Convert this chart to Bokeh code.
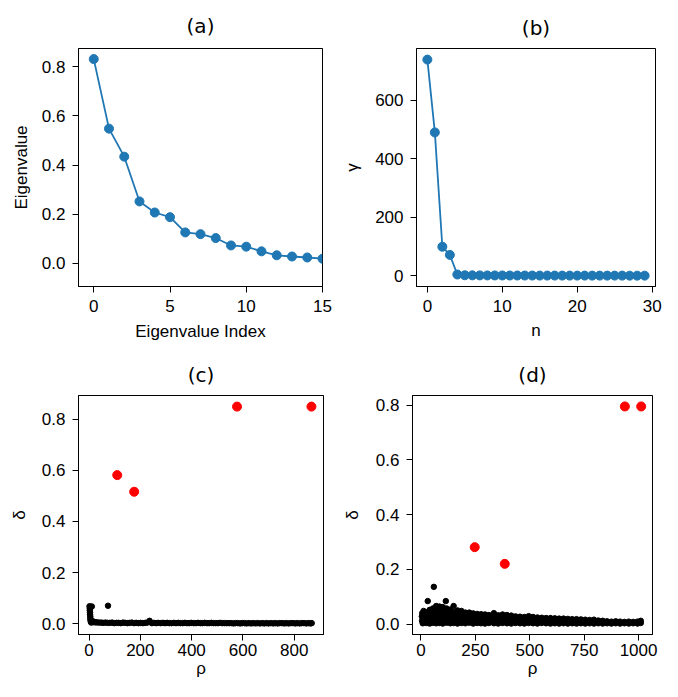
from bokeh.plotting import figure
from bokeh.layouts import row, column
from bokeh.models import Range1d, FixedTicker, PrintfTickFormatter, ColumnDataSource, BoxAnnotation
from bokeh.embed import file_html
from bokeh.resources import INLINE

# ---------------- data ----------------
# (a) eigenvalue spectrum
eig_index = [0, 1, 2, 3, 4, 5, 6, 7, 8, 9, 10, 11, 12, 13, 14, 15]
eig_value = [0.831, 0.548, 0.434, 0.252, 0.207, 0.188, 0.126, 0.119,
             0.103, 0.073, 0.068, 0.049, 0.033, 0.028, 0.024, 0.019]

# (b) gamma
gamma_n = [0, 1, 2, 3, 4, 5, 6, 7, 8, 9, 10, 11, 12, 13, 14,
           15, 16, 17, 18, 19, 20, 21, 22, 23, 24, 25, 26, 27, 28, 29]
gamma_val = [739, 490, 99, 71, 4, 1.5, 1.2, 1.0, 0.9, 0.8, 0.7, 0.6, 0.6, 0.5, 0.5,
             0.4, 0.4, 0.4, 0.3, 0.3, 0.3, 0.3, 0.2, 0.2, 0.2, 0.2, 0.2, 0.1, 0.1, 0.1]

# (c) decision graph: centers (red) and other points (black)
c_center_rho = [110, 176, 577, 867]
c_center_delta = [0.581, 0.516, 0.849, 0.849]
c_rho = [2, 3, 3, 4, 4, 5, 5, 6, 7, 9, 11, 14, 18, 24, 74, 236,
         30, 38, 47, 55, 64, 72, 81, 90, 98, 107,
         115, 124, 133, 141, 150, 158, 167, 176, 184, 193,
         201, 210, 219, 227, 245, 253, 262, 270, 279, 288,
         296, 305, 313, 322, 331, 339, 348, 356, 365, 374,
         382, 391, 399, 408, 417, 425, 434, 442, 451, 460,
         468, 477, 485, 494, 503, 511, 520, 528, 537, 546,
         554, 563, 571, 580, 589, 597, 606, 614, 623, 632,
         640, 649, 657, 666, 675, 683, 692, 700, 709, 718,
         726, 735, 743, 752, 761, 769, 778, 786, 795, 804,
         812, 821, 829, 838, 847, 855, 863, 868]
c_delta = [0.068, 0.060, 0.052, 0.044, 0.036, 0.028, 0.020, 0.013, 0.007, 0.004,
           0.067, 0.010, 0.006, 0.005, 0.070, 0.011,
           0.005, 0.004, 0.004, 0.003, 0.004, 0.003, 0.003, 0.004, 0.002, 0.003,
           0.003, 0.002, 0.004, 0.003, 0.002, 0.003, 0.004, 0.002, 0.003, 0.002,
           0.003, 0.002, 0.003, 0.004, 0.002, 0.003, 0.002, 0.003, 0.002, 0.003,
           0.002, 0.003, 0.002, 0.002, 0.003, 0.002, 0.003, 0.002, 0.002, 0.003,
           0.002, 0.002, 0.003, 0.002, 0.002, 0.003, 0.002, 0.002, 0.003, 0.002,
           0.002, 0.003, 0.002, 0.002, 0.002, 0.003, 0.002, 0.002, 0.002, 0.002,
           0.002, 0.001, 0.002, 0.002, 0.001, 0.002, 0.002, 0.001, 0.002, 0.001,
           0.002, 0.001, 0.002, 0.001, 0.002, 0.001, 0.002, 0.001, 0.002, 0.001,
           0.002, 0.001, 0.002, 0.002, 0.001, 0.002, 0.001, 0.002, 0.002, 0.001,
           0.002, 0.001, 0.002, 0.002, 0.001, 0.002, 0.001, 0.002]

# (d) decision graph: centers (red) and other points (black)
d_center_rho = [247, 385, 937, 1012]
d_center_delta = [0.281, 0.220, 0.795, 0.795]
d_outlier_rho = [4, 5, 6, 8, 10, 12, 15, 18, 31, 59, 114]
d_outlier_delta = [0.028, 0.012, 0.040, 0.003, 0.022, 0.048, 0.034, 0.008, 0.084, 0.136, 0.084]
d_col_rho = [25, 40, 55, 70, 85, 100, 118, 135, 150, 168, 186, 204, 222, 240, 258, 276,
             294, 312, 335, 355, 375, 395, 415, 435, 455, 475, 495, 515, 535, 555, 575,
             595, 615, 635, 655, 675, 695, 715, 735, 755, 775, 795, 815, 835, 855, 875,
             895, 915, 935, 955, 975, 995, 1010]
d_col_delta = [
    [0.004, 0.017, 0.030, 0.043],
    [0.002, 0.015, 0.028, 0.041, 0.052],
    [0.005, 0.018, 0.031, 0.044, 0.057],
    [0.003, 0.016, 0.029, 0.042, 0.055, 0.066],
    [0.004, 0.017, 0.030, 0.043, 0.056, 0.064],
    [0.002, 0.015, 0.028, 0.041, 0.054, 0.062],
    [0.005, 0.018, 0.031, 0.044, 0.057],
    [0.003, 0.016, 0.029, 0.042, 0.053],
    [0.004, 0.017, 0.030, 0.043, 0.066],
    [0.002, 0.015, 0.028, 0.041, 0.050],
    [0.004, 0.017, 0.030, 0.043, 0.048],
    [0.003, 0.016, 0.029, 0.042],
    [0.005, 0.018, 0.031, 0.042],
    [0.002, 0.015, 0.028, 0.039],
    [0.004, 0.016, 0.028, 0.037],
    [0.003, 0.015, 0.027, 0.036],
    [0.002, 0.014, 0.026, 0.035],
    [0.004, 0.016, 0.028, 0.033],
    [0.003, 0.015, 0.027, 0.040],
    [0.002, 0.014, 0.026, 0.032],
    [0.004, 0.016, 0.028, 0.035],
    [0.003, 0.015, 0.027, 0.033],
    [0.002, 0.014, 0.026, 0.031],
    [0.004, 0.016, 0.028],
    [0.003, 0.015, 0.027],
    [0.002, 0.014, 0.026],
    [0.004, 0.016, 0.029],
    [0.003, 0.014, 0.026],
    [0.002, 0.013, 0.024],
    [0.004, 0.014, 0.023],
    [0.003, 0.013, 0.022],
    [0.002, 0.012, 0.022],
    [0.003, 0.012, 0.021],
    [0.002, 0.011, 0.020],
    [0.003, 0.012, 0.020],
    [0.002, 0.011, 0.019],
    [0.003, 0.011, 0.018],
    [0.002, 0.010, 0.018],
    [0.003, 0.011, 0.017],
    [0.002, 0.010, 0.016],
    [0.003, 0.010, 0.015],
    [0.002, 0.009, 0.016],
    [0.003, 0.010, 0.013],
    [0.002, 0.009, 0.012],
    [0.003, 0.010],
    [0.002, 0.009],
    [0.003, 0.010],
    [0.002, 0.009],
    [0.003, 0.008],
    [0.002, 0.009],
    [0.003, 0.008],
    [0.002, 0.009],
    [0.004, 0.012],
]

# tick labels
a_xticks = [0, 5, 10, 15]
a_yticks = [0.0, 0.2, 0.4, 0.6, 0.8]
b_xticks = [0, 10, 20, 30]
b_yticks = [0, 200, 400, 600]
c_xticks = [0, 200, 400, 600, 800]
c_yticks = [0.0, 0.2, 0.4, 0.6, 0.8]
d_xticks = [0, 250, 500, 750, 1000]
d_yticks = [0.0, 0.2, 0.4, 0.6, 0.8]

# ---------------- style ----------------
BLUE = "#1f77b4"
TICK_FONT = "Liberation Sans"
TITLE_FONT = "DejaVu Sans"
FS = "17px"


def make_fig(w, h, left, right, top, bottom, xr, yr, title, toff, tstand):
    p = figure(width=w, height=h, x_range=Range1d(*xr), y_range=Range1d(*yr),
               output_backend="svg", toolbar_location=None, title=title,
               min_border_left=left, min_border_right=right,
               min_border_top=top, min_border_bottom=bottom)
    p.title.align = "center"
    p.title.text_font = TITLE_FONT
    p.title.text_font_size = "20px"
    p.title.text_font_style = "normal"
    p.title.text_color = "black"
    p.title.standoff = tstand
    p.title.offset = toff
    p.grid.visible = False
    p.outline_line_color = "black"
    p.outline_line_width = 1
    p.outline_line_alpha = 1
    p.background_fill_color = None
    p.border_fill_color = "white"
    for ax in (p.xaxis[0], p.yaxis[0]):
        ax.axis_line_color = "black"
        ax.axis_line_width = 1
        ax.major_tick_line_color = "black"
        ax.major_tick_out = 6
        ax.major_tick_in = 0
        ax.minor_tick_line_color = None
        ax.major_label_text_font = TICK_FONT
        ax.major_label_text_font_size = FS
        ax.major_label_text_color = "black"
        ax.axis_label_text_font = TICK_FONT
        ax.axis_label_text_font_size = FS
        ax.axis_label_text_font_style = "normal"
        ax.axis_label_text_color = "black"
    p.xaxis.major_label_standoff = 7
    p.yaxis.major_label_standoff = 7
    p.add_layout(BoxAnnotation(fill_alpha=0, fill_color=None, line_color="black",
                               line_width=1, line_alpha=1))
    return p


def set_ticks(p, xt, yt, xf, yf):
    p.xaxis.ticker = FixedTicker(ticks=xt)
    p.yaxis.ticker = FixedTicker(ticks=yt)
    p.xaxis.formatter = PrintfTickFormatter(format=xf)
    p.yaxis.formatter = PrintfTickFormatter(format=yf)


# (a)
fa = make_fig(339, 351, 78, 17, 48, 65, (-1, 15), (-0.094, 0.874), "(a)", -4, 22)
set_ticks(fa, a_xticks, a_yticks, "%d", "%.1f")
fa.xaxis.axis_label = "Eigenvalue Index"
fa.yaxis.axis_label = "Eigenvalue"
fa.xaxis.axis_label_standoff = 7
fa.yaxis.axis_label_standoff = 8
src_a = ColumnDataSource(dict(x=eig_index, y=eig_value))
fa.line("x", "y", source=src_a, line_color=BLUE, line_width=1.8)
fa.scatter("x", "y", source=src_a, size=9, fill_color=BLUE, line_color=BLUE)

# (b)
fb = make_fig(323, 351, 77, 7, 43, 65, (-1.45, 30.45), (-37, 777), "(b)", -6, 17)
set_ticks(fb, b_xticks, b_yticks, "%d", "%d")
fb.xaxis.axis_label = "n"
fb.yaxis.axis_label = "γ"
fb.xaxis.axis_label_standoff = 6
fb.yaxis.axis_label_standoff = 10
src_b = ColumnDataSource(dict(x=gamma_n, y=gamma_val))
fb.line("x", "y", source=src_b, line_color=BLUE, line_width=1.8)
fb.scatter("x", "y", source=src_b, size=9, fill_color=BLUE, line_color=BLUE)

# (c)
fc = make_fig(339, 330, 78, 16, 44, 47, (-41, 914), (-0.0425, 0.8925), "(c)", -5, 18)
set_ticks(fc, c_xticks, c_yticks, "%d", "%.1f")
fc.xaxis.major_label_standoff = 3
fc.xaxis.axis_label = "ρ"
fc.xaxis.axis_label_standoff = 0
fc.yaxis.axis_label = "δ"
fc.yaxis.axis_label_standoff = 10
fc.scatter(c_rho, c_delta, size=5.5, fill_color="black", line_color="black")
fc.scatter(c_center_rho, c_center_delta, size=9, fill_color="red", line_color="red")

# (d)
d_rho = list(d_outlier_rho)
d_delta = list(d_outlier_delta)
for r, ds in zip(d_col_rho, d_col_delta):
    for dv in ds:
        d_rho.append(r)
        d_delta.append(dv)

fd = make_fig(323, 330, 70, 10, 44, 47, (-39, 1064), (-0.038, 0.835), "(d)", -4, 18)
set_ticks(fd, d_xticks, d_yticks, "%d", "%.1f")
fd.xaxis.major_label_standoff = 3
fd.xaxis.axis_label = "ρ"
fd.xaxis.axis_label_standoff = 0
fd.yaxis.axis_label = "δ"
fd.yaxis.axis_label_standoff = 11
fd.scatter(d_rho, d_delta, size=5.5, fill_color="black", line_color="black")
fd.scatter(d_center_rho, d_center_delta, size=9, fill_color="red", line_color="red")

layout = column(row(fa, fb), row(fc, fd))

open("out.html", "w").write(file_html(layout, INLINE))
